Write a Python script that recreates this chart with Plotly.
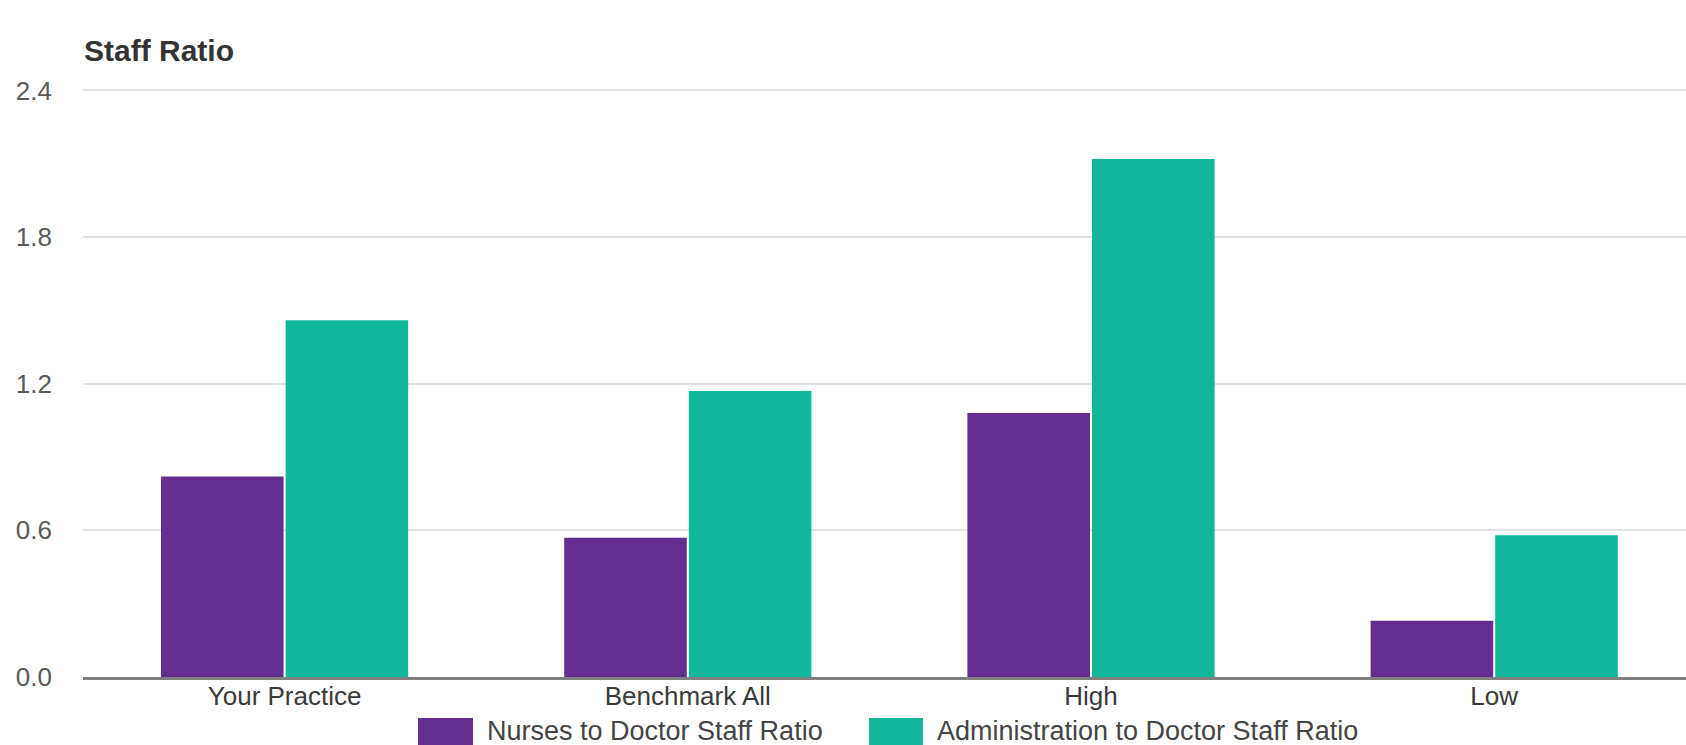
import plotly.graph_objects as go

categories = ["Your Practice", "Benchmark All", "High", "Low"]
series_names = ["Nurses to Doctor Staff Ratio", "Administration to Doctor Staff Ratio"]
nurses = [0.82, 0.57, 1.08, 0.23]
admin = [1.46, 1.17, 2.12, 0.58]
y_ticks = [0.0, 0.6, 1.2, 1.8, 2.4]
y_tick_labels = ["0.0", "0.6", "1.2", "1.8", "2.4"]
colors = ["#662D91", "#12B79A"]

W, H = 1686, 745
Y_TOP = 2.41
ML, MR, MB = 83, 0, 68
PH0 = H - MB - 90            # pixel height for 0 .. 2.4
PH = PH0 * Y_TOP / 2.4
MT = H - MB - PH
PW = W - ML - MR
CAT_PX = 403.2

FONT = "Arial, Liberation Sans, sans-serif"

fig = go.Figure()
for name, vals, col in zip(series_names, [nurses, admin], colors):
    fig.add_trace(go.Bar(x=categories, y=vals, name=name, marker_color=col,
                         marker_line_width=0, showlegend=False))

fig.update_layout(
    width=W, height=H,
    margin=dict(l=ML, r=MR, t=MT, b=MB, pad=0),
    paper_bgcolor="white", plot_bgcolor="white",
    barmode="group", bargap=0.382, bargroupgap=0.016,
    font=dict(family=FONT, size=26, color="#444"),
    title=dict(text="<b>Staff Ratio</b>", x=(84 - ML) / PW, xanchor="left", xref="paper",
               y=1 - 50 / H, yanchor="middle", yref="container",
               font=dict(family=FONT, size=30, color="#333")),
)

fig.update_xaxes(
    range=[-0.5, -0.5 + PW / CAT_PX], showgrid=False, showline=True,
    linecolor="#808080", linewidth=2.5, ticks="", ticklabelstandoff=-6,
    tickfont=dict(size=26, color="#3a3a3a"), zeroline=False, fixedrange=True,
)
fig.update_yaxes(
    range=[0, Y_TOP], tickvals=y_ticks, ticktext=y_tick_labels, showgrid=True,
    gridcolor="#e3e3e3", gridwidth=2, zeroline=False, showline=False, ticks="",
    ticklabelstandoff=30, tickfont=dict(size=26, color="#5a5a5a"), fixedrange=True,
)

# manual legend (large swatches like the original)
def px_x(p):
    return (p - ML) / PW

def px_y(p):
    return (H - MB - p) / PH

legend_items = [(418, 473, 485), (869, 923, 935)]
for (x0, x1, tx), name, col in zip(legend_items, series_names, colors):
    fig.add_shape(type="rect", xref="paper", yref="paper",
                  x0=px_x(x0), x1=px_x(x1), y0=px_y(748), y1=px_y(718),
                  fillcolor=col, line_width=0)
    fig.add_annotation(text=name, xref="paper", yref="paper", x=px_x(tx), y=px_y(731),
                       xanchor="left", yanchor="middle", showarrow=False,
                       font=dict(family=FONT, size=27, color="#444"))

fig.write_html("out.html", config={"displayModeBar": False})
